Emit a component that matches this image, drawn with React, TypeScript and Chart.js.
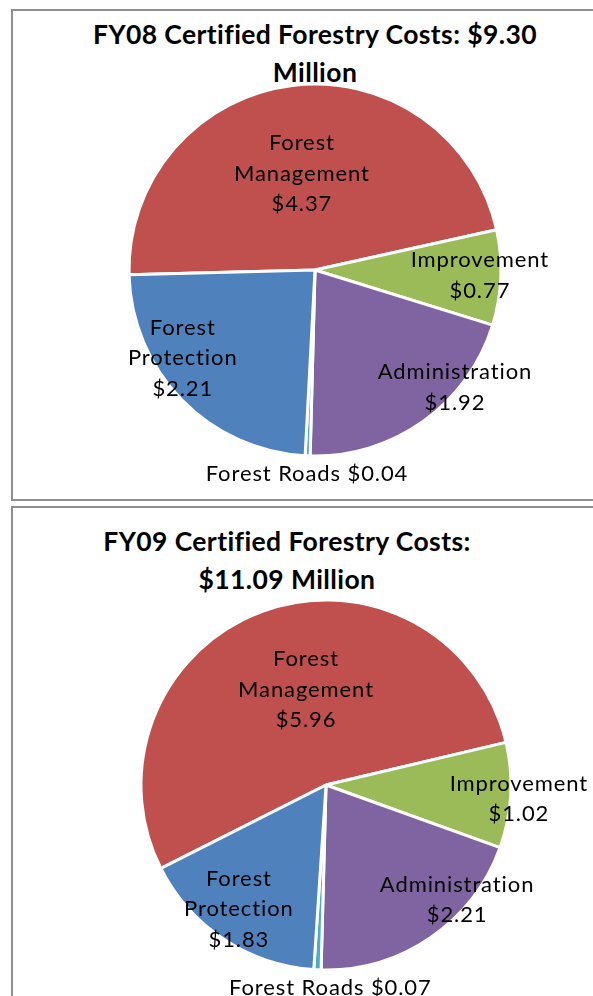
import React, { useEffect, useRef } from 'react';
import { Chart, registerables } from 'chart.js';

Chart.register(...registerables);

// ---- data ----
const categories = ['Forest Management', 'Improvement', 'Administration', 'Forest Roads', 'Forest Protection'];
const labelLines = [['Forest', 'Management'], ['Improvement'], ['Administration'], ['Forest Roads'], ['Forest', 'Protection']];
const valueOnSameLine = [false, false, false, true, false];
const fy08Costs = [4.37, 0.77, 1.92, 0.04, 2.21];
const fy09Costs = [5.96, 1.02, 2.21, 0.07, 1.83];
const fy08Title = ['FY08 Certified Forestry Costs: $9.30', 'Million'];
const fy09Title = ['FY09 Certified Forestry Costs:', '$11.09 Million'];

// ---- styles / layout ----
const sliceColors = ['#C0504D', '#9BBB59', '#8064A2', '#4BACC6', '#4F81BD'];
const FONT = 'Lato, "Open Sans", sans-serif';
const LATO_CAP = 0.7165;

// label placement relative to each slice: angle shift (deg) from mid-angle, radius fraction
const fy08LabelShift = [-0.7, -0.8, -14.6, 0, 10.8];
const fy08LabelRadius = [0.526, 0.887, 0.979, 1.093, 0.852];
const fy09LabelShift = [8.3, 0.6, -14.65, -3.9, 1.7];
const fy09LabelRadius = [0.53, 1.045, 0.939, 1.092, 0.817];

type PieSpec = {
  values: number[];
  title: string[];
  rotation: number;
  radius: number;
  shift: number[];
  radFrac: number[];
  canvas: { left: number; top: number; width: number; height: number; padL: number; padT: number };
  titleBox: { centerX: number; top: number; lineHeight: number };
  box: { top: number; height: number };
};

const specs: PieSpec[] = [
  {
    values: fy08Costs,
    title: fy08Title,
    rotation: 268.5,
    radius: 186,
    shift: fy08LabelShift,
    radFrac: fy08LabelRadius,
    canvas: { left: 13, top: 12, width: 580, height: 486, padL: 24, padT: 30 },
    titleBox: { centerX: 315, top: 14.7, lineHeight: 38 },
    box: { top: 9, height: 492 },
  },
  {
    values: fy09Costs,
    title: fy09Title,
    rotation: 243.2,
    radius: 185,
    shift: fy09LabelShift,
    radFrac: fy09LabelRadius,
    canvas: { left: 13, top: 509, width: 580, height: 487, padL: 46, padT: 65 },
    titleBox: { centerX: 287, top: 521.7, lineHeight: 38 },
    box: { top: 506, height: 600 },
  },
];

function makeLabelPlugin(spec: PieSpec) {
  const size = 22;
  const gap = 30.5;
  return {
    id: 'sliceLabels',
    afterDatasetsDraw(chart: any) {
      const meta = chart.getDatasetMeta(0);
      const ctx: CanvasRenderingContext2D = chart.ctx;
      ctx.save();
      ctx.font = `${size}px ${FONT}`;
      (ctx as any).letterSpacing = '0.9px';
      ctx.fillStyle = '#000000';
      ctx.textAlign = 'center';
      ctx.textBaseline = 'alphabetic';
      meta.data.forEach((el: any, i: number) => {
        const p = el.getProps(['x', 'y', 'startAngle', 'endAngle', 'outerRadius'], true);
        const a = (p.startAngle + p.endAngle) / 2 + (spec.shift[i] * Math.PI) / 180;
        const r = p.outerRadius * spec.radFrac[i];
        const cx = p.x + Math.cos(a) * r;
        const cy = p.y + Math.sin(a) * r;
        const money = '$' + spec.values[i].toFixed(2);
        const lines = valueOnSameLine[i]
          ? [labelLines[i].join(' ') + ' ' + money]
          : [...labelLines[i], money];
        const n = lines.length;
        lines.forEach((t, k) => {
          const capCenter = cy + (k - (n - 1) / 2) * gap;
          ctx.fillText(t, cx, capCenter + (LATO_CAP * size) / 2);
        });
      });
      ctx.restore();
    },
  };
}

function PieChart({ spec }: { spec: PieSpec }) {
  const ref = useRef<HTMLCanvasElement | null>(null);
  useEffect(() => {
    if (!ref.current) return;
    const chart = new Chart(ref.current, {
      type: 'pie',
      data: {
        labels: categories,
        datasets: [
          {
            data: spec.values,
            backgroundColor: sliceColors,
            borderColor: '#ffffff',
            borderWidth: 3,
          },
        ],
      },
      options: {
        responsive: false,
        animation: false,
        events: [],
        rotation: spec.rotation,
        radius: spec.radius,
        layout: { padding: { left: spec.canvas.padL, top: spec.canvas.padT, right: 0, bottom: 0 } },
        plugins: {
          legend: { display: false },
          tooltip: { enabled: false },
          title: { display: false },
        },
      } as any,
      plugins: [makeLabelPlugin(spec)],
    });
    return () => chart.destroy();
  }, [spec]);
  return (
    <canvas
      ref={ref}
      width={spec.canvas.width}
      height={spec.canvas.height}
      style={{
        position: 'absolute',
        left: spec.canvas.left,
        top: spec.canvas.top,
        width: spec.canvas.width,
        height: spec.canvas.height,
      }}
    />
  );
}

export default function App() {
  return (
    <div
      style={{
        position: 'fixed',
        left: 0,
        top: 0,
        width: 593,
        height: 996,
        overflow: 'hidden',
        background: '#ffffff',
      }}
    >
      {specs.map((s, i) => (
        <div
          key={'box' + i}
          style={{
            position: 'absolute',
            left: 11,
            top: s.box.top,
            width: 700,
            height: s.box.height,
            boxSizing: 'border-box',
            border: '2px solid #8f8f8f',
          }}
        />
      ))}
      {specs.map((s, i) => (
        <div
          key={'title' + i}
          style={{
            position: 'absolute',
            left: s.titleBox.centerX - 280,
            width: 560,
            top: s.titleBox.top,
            textAlign: 'center',
            fontFamily: FONT,
            fontWeight: 700,
            fontSize: 26.5,
            lineHeight: s.titleBox.lineHeight + 'px',
            letterSpacing: '0.4px',
            color: '#000',
            whiteSpace: 'nowrap',
          }}
        >
          {s.title.map((t, k) => (
            <div key={k}>{t}</div>
          ))}
        </div>
      ))}
      {specs.map((s, i) => (
        <PieChart key={'pie' + i} spec={s} />
      ))}
    </div>
  );
}
